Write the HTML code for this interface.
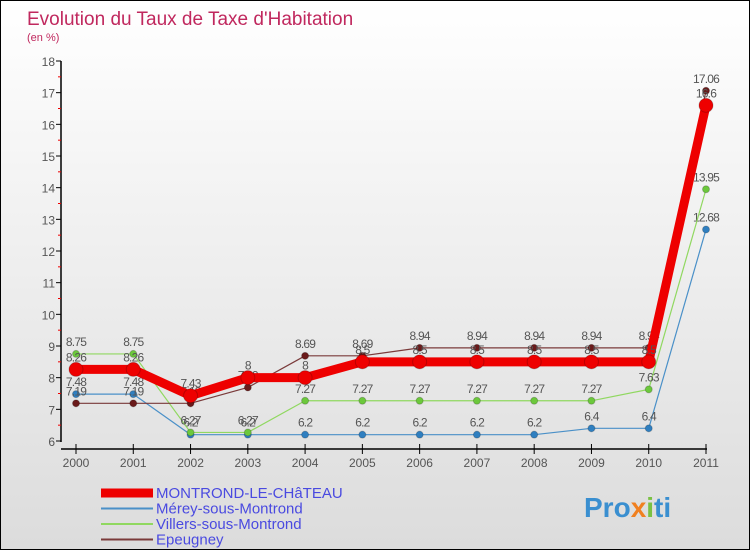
<!DOCTYPE html>
<html><head><meta charset="utf-8"><style>
body{margin:0;}
#wrap{width:748px;height:548px;border:1px solid #000;background:linear-gradient(#fff,#dcdcdc);position:relative;overflow:hidden;font-family:"Liberation Sans",sans-serif;}
</style></head><body>
<div id="wrap">
<svg id="svg" width="748" height="548" xmlns="http://www.w3.org/2000/svg">
<text x="26" y="24" font-size="19" fill="#c0285e">Evolution du Taux de Taxe d'Habitation</text>
<text x="26" y="40" font-size="11" fill="#c0285e">(en %)</text>
<g id="axes"></g><g id="series"></g><g id="legend"></g>
<text x="583" y="516" font-size="28" font-weight="bold" fill="#3a8fd0">Pro<tspan fill="#f08020">x</tspan><tspan fill="#7ac143">i</tspan>ti</text>
</svg>
</div>
<script>
const years=["2000","2001","2002","2003","2004","2005","2006","2007","2008","2009","2010","2011"];
const yTicks=[6,7,8,9,10,11,12,13,14,15,16,17,18];
const montrond=[8.26,8.26,7.43,8,8,8.5,8.5,8.5,8.5,8.5,8.5,16.6];
const merey=[7.48,7.48,6.2,6.2,6.2,6.2,6.2,6.2,6.2,6.4,6.4,12.68];
const villers=[8.75,8.75,6.27,6.27,7.27,7.27,7.27,7.27,7.27,7.27,7.63,13.95];
const epeugney=[7.19,7.19,7.19,7.69,8.69,8.69,8.94,8.94,8.94,8.94,8.94,17.06];
const NS="http://www.w3.org/2000/svg";
const xs=i=>75+i*(630/11);
const ys=v=>440-(v-6)*(380/12);
function mk(tag,attrs,parent,txt){const e=document.createElementNS(NS,tag);for(const k in attrs)e.setAttribute(k,attrs[k]);if(txt!==undefined)e.textContent=txt;parent.appendChild(e);return e;}
const ax=document.getElementById('axes');
let e=mk('line',{x1:60,y1:60,x2:60,y2:441,stroke:'#000','stroke-width':1.5},ax);


e=mk('line',{x1:60,y1:448,x2:706,y2:448,stroke:'#000','stroke-width':1.5},ax);


yTicks.forEach((t,i)=>{
  mk('line',{x1:55,y1:ys(t),x2:60,y2:ys(t),stroke:'#000'},ax);
  if(i<yTicks.length-1)mk('line',{x1:57,y1:ys(t+0.5),x2:60,y2:ys(t+0.5),stroke:'#e00'},ax);
  const l=mk('text',{x:54,y:ys(t)+5,'font-size':12,fill:'#555','text-anchor':'end'},ax,t);
  
  
});
years.forEach((y,i)=>{
  mk('line',{x1:xs(i),y1:443,x2:xs(i),y2:453,stroke:'#000'},ax);
  const l=mk('text',{x:xs(i),y:466,'font-size':12,fill:'#555','text-anchor':'middle'},ax,y);
  
  
});
const sg=document.getElementById('series');
const defs=[
 {d:merey,c:'#4a90c8',w:1.2,r:3.5,n:'merey-sous-montrond',lc:'#2f7fc0'},
 {d:villers,c:'#90d860',w:1.2,r:3.5,n:'villers-sous-montrond',lc:'#6cc83c'},
 {d:epeugney,c:'#7a3a3a',w:1.2,r:3.5,n:'epeugney',lc:'#6a1a1a'},
 {d:montrond,c:'#ee0000',w:9,r:7,n:'montrond-le-chateau',lc:'#ee0000'}
];
defs.forEach(s=>{
  const g=mk('g',{},sg);
  
  
  const pl=mk('polyline',{points:s.d.map((v,i)=>xs(i)+','+ys(v)).join(' '),fill:'none',stroke:s.c,'stroke-width':s.w,'stroke-linejoin':'round'},g);
  
  
  s.d.forEach((v,i)=>{
    const c=mk('circle',{cx:xs(i),cy:ys(v),r:s.r,fill:s.lc,stroke:'rgba(0,0,0,0.2)'},g);
    
    
    const t=mk('text',{x:xs(i),y:ys(v)-8,'font-size':12,fill:'#555','text-anchor':'middle','letter-spacing':'-0.8'},g,v);
    
    
  });
});
const lg=document.getElementById('legend');
const items=[['MONTROND-LE-CHâTEAU','#ee0000',9],['Mérey-sous-Montrond','#4a90c8',2],['Villers-sous-Montrond','#90d860',2],['Epeugney','#7a3a3a',2]];
items.forEach((it,i)=>{
  const y=492+i*15.5;
  const g=mk('g',{},lg);
  
  
  mk('line',{x1:100,y1:y,x2:152,y2:y,stroke:it[1],'stroke-width':it[2]},g);
  mk('text',{x:155,y:y+5,'font-size':15,fill:'#4a4ae0'},g,it[0]);
});
</script>
</body></html>
